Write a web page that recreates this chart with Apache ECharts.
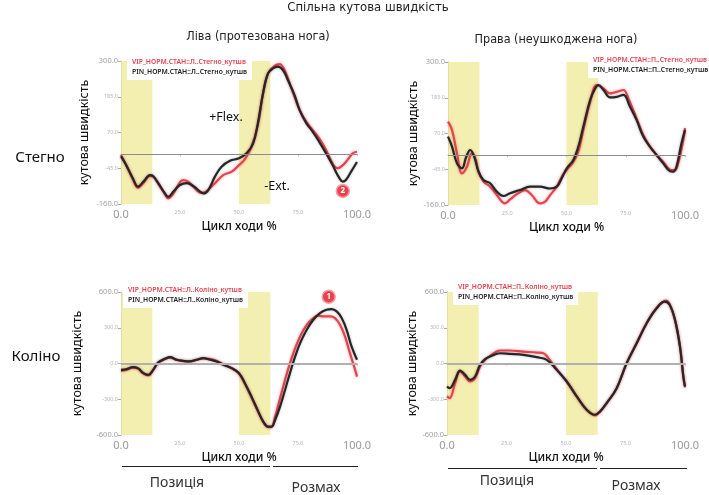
<!DOCTYPE html>
<html><head><meta charset="utf-8">
<script src="https://cdn.jsdelivr.net/npm/echarts@6/dist/echarts.min.js"></script>
<style>html,body{margin:0;padding:0;background:#fff}#c{width:709px;height:495px}</style>
</head><body><div id="c"></div>
<script>
// ---- data (gait cycle %, angular velocity) ----
const xTicks = [0, 25, 50, 75, 100];
const hipTicks = [-160, -45, 70, 185, 300];
const kneeTicks = [-600, -300, 0, 300, 600];
const bandStance = [0, 13.3];
const bandSwing = [50, 63.3];

const hipL_redX = [0,2.2,5,7.2,9.5,12.3,13.6,15.8,18.6,20,22.2,26.4,28.5,30.6,34,36,39.8,43.3,46.9,50,52.5,55.3,58,60.2,62.3,65,67.2,69.3,72,75.7,78.5,81.2,84,86.9,89.7,91.8,94,96,98.2,100];
const hipL_redY = [-2,-35,-80,-108,-92,-70,-72,-95,-128,-142,-126,-83,-88,-104,-124,-120,-93,-67,-56,-35,-16,24,94,196,260,284,290,271,217,142,105,78,51,14,-30,-45,-35,-18,3,8];
const hipL_blkX = [0,2.2,5,7.2,9.5,12.3,13.6,15.8,18.6,20,22.2,25,27.8,30.6,33.5,34.9,37,39.8,42.6,46.2,50,53.2,56,58,60.2,62.3,64.4,66.5,68.6,70.7,73.5,75.7,78.5,81.2,84,86.9,89.7,91.8,94,95.3,97.5,100];
const hipL_blkY = [-7,-35,-77,-104,-88,-67,-70,-93,-126,-137,-120,-99,-93,-102,-120,-126,-115,-72,-40,-21,-13,3,35,100,196,260,276,282,271,239,191,142,100,73,40,3,-35,-67,-88,-83,-56,-25];

const hipR_redX = [0,1.7,3.8,5.9,8,10,11.5,12.9,15,17.8,20.6,24.1,26.2,29.7,32.5,35.3,38.8,41,43.1,45.9,48,50.1,52.9,55,57.1,60,62.8,65.6,68.4,71.2,74,76.1,79.6,82.4,85.2,88,90.8,94.3,95.7,97.1,99.3,100];
const hipR_redY = [108,81,6,-58,-37,6,-10,-53,-85,-101,-128,-155,-142,-122,-112,-128,-155,-149,-128,-101,-69,-47,-21,12,81,172,226,215,199,204,210,183,118,65,28,1,-21,-48,-48,-26,49,87];
const hipR_blkX = [0,1.7,3.8,5.9,7.7,9.4,11.1,12.9,15,17.8,20.6,23.4,26.2,30.4,34.6,38.8,43.1,45.9,48,50.1,52.9,55,57.1,60,62.1,63.5,65.6,68.4,71.2,74,76.8,79.6,82.4,85.2,88,90.8,93.6,95,96.4,98.5,100];
const hipR_blkY = [60,28,-26,-42,-5,17,-5,-53,-80,-90,-117,-131,-122,-112,-101,-101,-107,-101,-74,-42,-15,28,92,178,215,226,210,186,188,194,156,113,60,28,1,-26,-51,-53,-37,38,81];

const kneeL_redX = [0,2.2,5,7.2,9.5,11.6,13.6,15.8,18.6,20.8,23.6,26.4,29.2,32,34.9,37.7,40.5,43.3,46.9,50,52.5,55.3,58.2,60.3,62.4,63.6,65.3,67.4,69.5,71.6,73.8,75.9,78.7,81.5,83.6,85.8,88.6,90.7,92.8,94.9,97,99.2,100];
const kneeL_redY = [-62,-55,-35,-45,-85,-100,-58,5,36,50,30,20,18,30,42,40,22,-5,-40,-85,-170,-285,-410,-492,-535,-535,-446,-292,-138,3,129,227,325,381,401,395,395,381,325,227,87,-53,-110];
const kneeL_blkX = [0,2.2,5,7.2,9.5,11.6,13.6,15.8,18.6,20.8,23.6,26.4,29.2,32,34.9,37.7,40.5,43.3,46.9,50,52.5,55.3,58.2,60.3,62.4,63.8,65.3,67.4,69.5,71.6,73.8,75.9,78.7,81.5,84.3,87.1,89.3,91.4,93.5,95.6,97.7,100];
const kneeL_blkY = [-53,-48,-31,-39,-81,-95,-53,10,39,53,31,22,17,31,45,31,17,-11,-39,-81,-166,-278,-404,-488,-530,-530,-474,-362,-222,-81,59,171,283,367,423,451,457,437,381,283,143,31];

const kneeR_redX = [0,1.1,3.4,5.5,7.6,9.7,11.8,13.9,16,18.1,22.3,26.5,32.1,37.7,40.5,42.6,46.1,50.3,54.5,58.7,62.2,64.3,67.1,71.3,75.5,79.7,83.9,88.1,92,93.6,95.8,97.9,99.3,100];
const kneeR_redY = [-276,-290,-165,-67,-109,-151,-123,-25,31,64,109,109,100,92,86,45,-47,-151,-276,-390,-435,-405,-332,-207,3,172,340,468,527,495,366,142,-109,-200];
const kneeR_blkX = [0,1.1,3.4,5.5,7.6,9.7,11.8,13.9,16,18.1,22.3,26.5,32.1,37.7,41.9,46.1,50.3,54.5,58.7,62.2,64.3,67.1,71.3,75.5,79.7,83.9,88.1,91.5,93.6,95.8,97.9,99.3,100];
const kneeR_blkY = [-193,-207,-137,-59,-95,-137,-109,-11,36,59,86,81,72,53,31,-53,-151,-276,-388,-430,-402,-332,-207,3,170,338,463,519,491,366,142,-109,-193];

const names = {
  hipL: ['VIP_НОРМ.СТАН::Л..Стегно_кутшв', 'PIN_НОРМ.СТАН::Л..Стегно_кутшв'],
  hipR: ['VIP_НОРМ.СТАН::П..Стегно_кутшв', 'PIN_НОРМ.СТАН::П..Стегно_кутшв'],
  kneeL: ['VIP_НОРМ.СТАН::Л..Коліно_кутшв', 'PIN_НОРМ.СТАН::Л..Коліно_кутшв'],
  kneeR: ['VIP_НОРМ.СТАН::П..Коліно_кутшв', 'PIN_НОРМ.СТАН::П..Коліно_кутшв']
};
const badges = [
  {panel: 0, x: 94, y: -118, label: '2'},
  {panel: 2, x: 88, y: 560, label: '1'}
];

// ---- chart ----
const RED = '#e5444f', BLK = '#262626';
const FONT = 'Noto Sans';
const NARROW = '"Liberation Sans Narrow","DejaVu Sans Condensed","Roboto",sans-serif';
const zip = (xs, ys) => xs.map((x, i) => [x, ys[i]]);

const grids = [
  {left: 121, top: 61, width: 236, height: 143},
  {left: 448, top: 62, width: 237, height: 143},
  {left: 121, top: 292, width: 236, height: 143},
  {left: 447, top: 292, width: 238, height: 143}
];
const yNameGap = [30, 22, 37, 22];

function xAxis(i) {
  return {
    type: 'value', gridIndex: i, min: xTicks[0], max: xTicks[xTicks.length - 1],
    interval: xTicks[1] - xTicks[0],
    name: 'Цикл ходи %', nameLocation: 'middle', nameGap: i < 2 ? 17 : 14,
    nameTextStyle: {fontFamily: FONT, fontSize: 12, fontWeight: 500, color: '#111'},
    axisLine: {lineStyle: {color: '#aaa', width: 1}},
    axisTick: {show: true, length: 2, lineStyle: {color: '#bbb'}},
    splitLine: {show: false},
    axisLabel: {
      margin: 5,
      formatter: v => (v === xTicks[0] || v === xTicks[xTicks.length - 1]) ? '{b|' + v.toFixed(1) + '}' : '{s|' + v.toFixed(1) + '}',
      rich: {b: {fontSize: 11, color: '#9a9a9a', fontFamily: FONT}, s: {fontSize: 5.5, color: '#b5b5b5', fontFamily: FONT}}
    }
  };
}
function yAxis(i, ticks) {
  return {
    type: 'value', gridIndex: i, min: ticks[0], max: ticks[ticks.length - 1], interval: ticks[1] - ticks[0],
    name: 'кутова швидкість', nameLocation: 'middle', nameGap: yNameGap[i],
    nameTextStyle: {fontFamily: FONT, fontSize: 12.5, color: '#111'},
    axisLine: {show: true, lineStyle: {color: '#aaa', width: 1}},
    axisTick: {show: true, length: 3, lineStyle: {color: '#aaa'}},
    splitLine: {show: false},
    axisLabel: {
      margin: 3,
      formatter: v => (v === ticks[0] || v === ticks[ticks.length - 1]) ? '{b|' + v.toFixed(1) + '}' : '{s|' + v.toFixed(1) + '}',
      rich: {b: {fontSize: 7.5, color: '#a0a0a0', fontFamily: FONT}, s: {fontSize: 5.5, color: '#b5b5b5', fontFamily: FONT}}
    }
  };
}

function pair(i, key, redX, redY, blkX, blkY, zeroW, zeroC) {
  const red = {
    name: names[key][0], type: 'line', xAxisIndex: i, yAxisIndex: i, smooth: 0.4, showSymbol: false,
    data: zip(redX, redY),
    lineStyle: {color: RED, width: 2.2, shadowColor: 'rgba(235,80,90,0.55)', shadowBlur: 3},
    itemStyle: {color: RED}, z: 3,
    markArea: {silent: true, itemStyle: {color: 'rgba(240,236,160,0.82)'},
      data: [[{xAxis: bandStance[0]}, {xAxis: bandStance[1]}], [{xAxis: bandSwing[0]}, {xAxis: bandSwing[1]}]]},
    markLine: {silent: true, symbol: 'none', label: {show: false},
      lineStyle: {color: zeroC, width: zeroW, type: 'solid'}, data: [{yAxis: 0}]}
  };
  const b = badges.find(d => d.panel === i);
  if (b) {
    red.markPoint = {silent: true, symbol: 'circle', symbolSize: 13,
      itemStyle: {color: '#e8434f', borderColor: '#f7a0a6', borderWidth: 1.5},
      label: {show: true, color: '#fff', fontSize: 8, fontWeight: 'bold', formatter: b.label},
      data: [{coord: [b.x, b.y]}]};
  }
  const blk = {
    name: names[key][1], type: 'line', xAxisIndex: i, yAxisIndex: i, smooth: 0.4, showSymbol: false,
    data: zip(blkX, blkY),
    lineStyle: {color: BLK, width: 2.2, shadowColor: 'rgba(0,0,0,0.3)', shadowBlur: 2.5},
    itemStyle: {color: BLK}, z: 4
  };
  return [red, blk];
}

function legend(key, pos) {
  return Object.assign({
    orient: 'vertical', icon: 'none', itemWidth: 0, itemHeight: 0, itemGap: 3,
    backgroundColor: '#fff', padding: [4, 5, 4, 0], selectedMode: false,
    textStyle: {fontFamily: FONT, fontSize: 6.8, fontWeight: 600, padding: [0, 0, 0, 0]},
    data: [{name: names[key][0], textStyle: {color: RED}}, {name: names[key][1], textStyle: {color: '#222'}}]
  }, pos);
}

const series = [].concat(
  pair(0, 'hipL', hipL_redX, hipL_redY, hipL_blkX, hipL_blkY, 1, '#8c8c8c'),
  pair(1, 'hipR', hipR_redX, hipR_redY, hipR_blkX, hipR_blkY, 1, '#8c8c8c'),
  pair(2, 'kneeL', kneeL_redX, kneeL_redY, kneeL_blkX, kneeL_blkY, 2, '#b0b0b0'),
  pair(3, 'kneeR', kneeR_redX, kneeR_redY, kneeR_blkX, kneeR_blkY, 2, '#b0b0b0')
);

const txt = (x, y, s, size, extra) => ({type: 'text', x: x, y: y, z: 10,
  style: Object.assign({text: s, fontFamily: FONT, fontSize: size, fill: '#111', align: 'center', verticalAlign: 'middle'}, extra || {})});
const ln = (x1, y1, x2, y2) => ({type: 'line', z: 10, shape: {x1: x1, y1: y1, x2: x2, y2: y2}, style: {stroke: '#222', lineWidth: 1}});

const option = {
  animation: false,
  textStyle: {fontFamily: FONT},
  title: [
    {text: 'Спільна кутова швидкість', left: 368, top: 1, padding: 0, textAlign: 'center',
      textStyle: {fontFamily: NARROW, fontSize: 13, fontWeight: 500, color: '#222'}},
    {text: 'Ліва (протезована нога)', left: 258, top: 30, padding: 0, textAlign: 'center',
      textStyle: {fontFamily: NARROW, fontSize: 12.5, fontWeight: 'normal', color: '#222'}},
    {text: 'Права (неушкоджена нога)', left: 556, top: 33, padding: 0, textAlign: 'center',
      textStyle: {fontFamily: NARROW, fontSize: 12.5, fontWeight: 'normal', color: '#222'}}
  ],
  grid: grids,
  xAxis: [0, 1, 2, 3].map(xAxis),
  yAxis: [yAxis(0, hipTicks), yAxis(1, hipTicks), yAxis(2, kneeTicks), yAxis(3, kneeTicks)],
  legend: [
    legend('hipL', {left: 127, top: 55}),
    legend('hipR', {left: 588, top: 53}),
    legend('kneeL', {left: 123, top: 283}),
    legend('kneeR', {left: 453, top: 280})
  ],
  series: series,
  graphic: [
    txt(40, 158, 'Стегно', 15),
    txt(36, 357, 'Коліно', 15),
    txt(226, 117, '+Flex.', 12.5),
    txt(277, 186, '-Ext.', 12.5),
    ln(122, 466.5, 270, 466.5), ln(273, 466.5, 358, 466.5),
    ln(448, 468.5, 597, 468.5), ln(600, 468.5, 687, 468.5),
    txt(177, 483, 'Позиція', 14, {fill: '#333'}),
    txt(316, 488, 'Розмах', 14, {fill: '#333'}),
    txt(507, 481, 'Позиція', 14, {fill: '#333'}),
    txt(636, 486, 'Розмах', 14, {fill: '#333'})
  ]
};
const chart = echarts.init(document.getElementById('c'), null, {renderer: 'canvas'});
chart.setOption(option);
</script></body></html>
